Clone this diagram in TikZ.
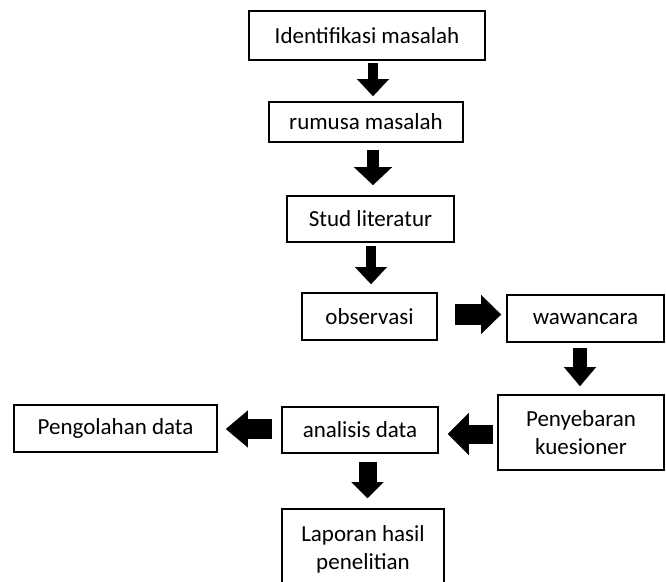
\documentclass[tikz,border=0pt]{standalone}
\usepackage{fontspec}
\setmainfont{Carlito}
\usetikzlibrary{arrows.meta}
\begin{document}
\begin{tikzpicture}[x=1pt,y=-1pt,
  box/.style={draw, line width=1.8pt, inner sep=0pt, align=center,
    font=\fontsize{23}{28}\selectfont},
  blk/.style n args={3}{line width=#1,
    -{Triangle[width=#2,length=#3,line width=0.1pt]}}]
\useasboundingbox (0,0) rectangle (666,581);
\clip (0,0) rectangle (666,581);
\node[box, minimum width=236pt, minimum height=49pt] (b1) at (367,35.5) {Identifikasi masalah};
\node[box, minimum width=194pt, minimum height=40pt] (b2) at (366,122) {rumusa masalah};
\node[box, minimum width=167pt, minimum height=46pt] (b3) at (370.5,219) {Stud literatur};
\node[box, minimum width=135pt, minimum height=47pt] (b4) at (369.5,316.5) {observasi};
\node[box, minimum width=157pt, minimum height=47pt] (b5) at (585.5,318.5) {wawancara};
\node[box, minimum width=166pt, minimum height=75pt] (b6) at (581,432.5) {Penyebaran\\kuesioner};
\node[box, minimum width=156pt, minimum height=46pt] (b7) at (360,430) {analisis data};
\node[box, minimum width=203pt, minimum height=47pt] (b8) at (115.5,428.5) {Pengolahan data};
\node[box, minimum width=162pt, minimum height=81pt] (b9) at (363,549.5) {Laporan hasil\\penelitian};

\draw[blk={10pt}{32pt}{17pt}] ([xshift=6pt,yshift=-2pt]b1.south) -- ([xshift=7pt,yshift=5pt]b2.north);
\draw[blk={12pt}{38pt}{18pt}] ([xshift=7pt,yshift=-7pt]b2.south) -- ([xshift=2.5pt,yshift=10pt]b3.north);
\draw[blk={10pt}{32pt}{17pt}] ([xshift=0.5pt,yshift=-3pt]b3.south) -- ([xshift=1.5pt,yshift=8pt]b4.north);
\draw[blk={21pt}{39pt}{20pt}] ([xshift=17pt,yshift=2pt]b4.east) -- ([xshift=-5pt,yshift=4pt]b5.west);
\draw[blk={14pt}{32pt}{19pt}] ([xshift=-5.5pt,yshift=-5pt]b5.south) -- ([xshift=-1pt,yshift=8pt]b6.north);
\draw[blk={19pt}{42pt}{21pt}] ([xshift=-4pt,yshift=-1.5pt]b6.west) -- ([xshift=9pt,yshift=-4pt]b7.east);
\draw[blk={20pt}{37pt}{22pt}] ([xshift=-9pt,yshift=1pt]b7.west) -- ([xshift=8pt,yshift=-0.5pt]b8.east);
\draw[blk={18pt}{32pt}{16pt}] ([xshift=7.5pt,yshift=-8pt]b7.south) -- ([xshift=4.5pt,yshift=10pt]b9.north);
\end{tikzpicture}
\end{document}
